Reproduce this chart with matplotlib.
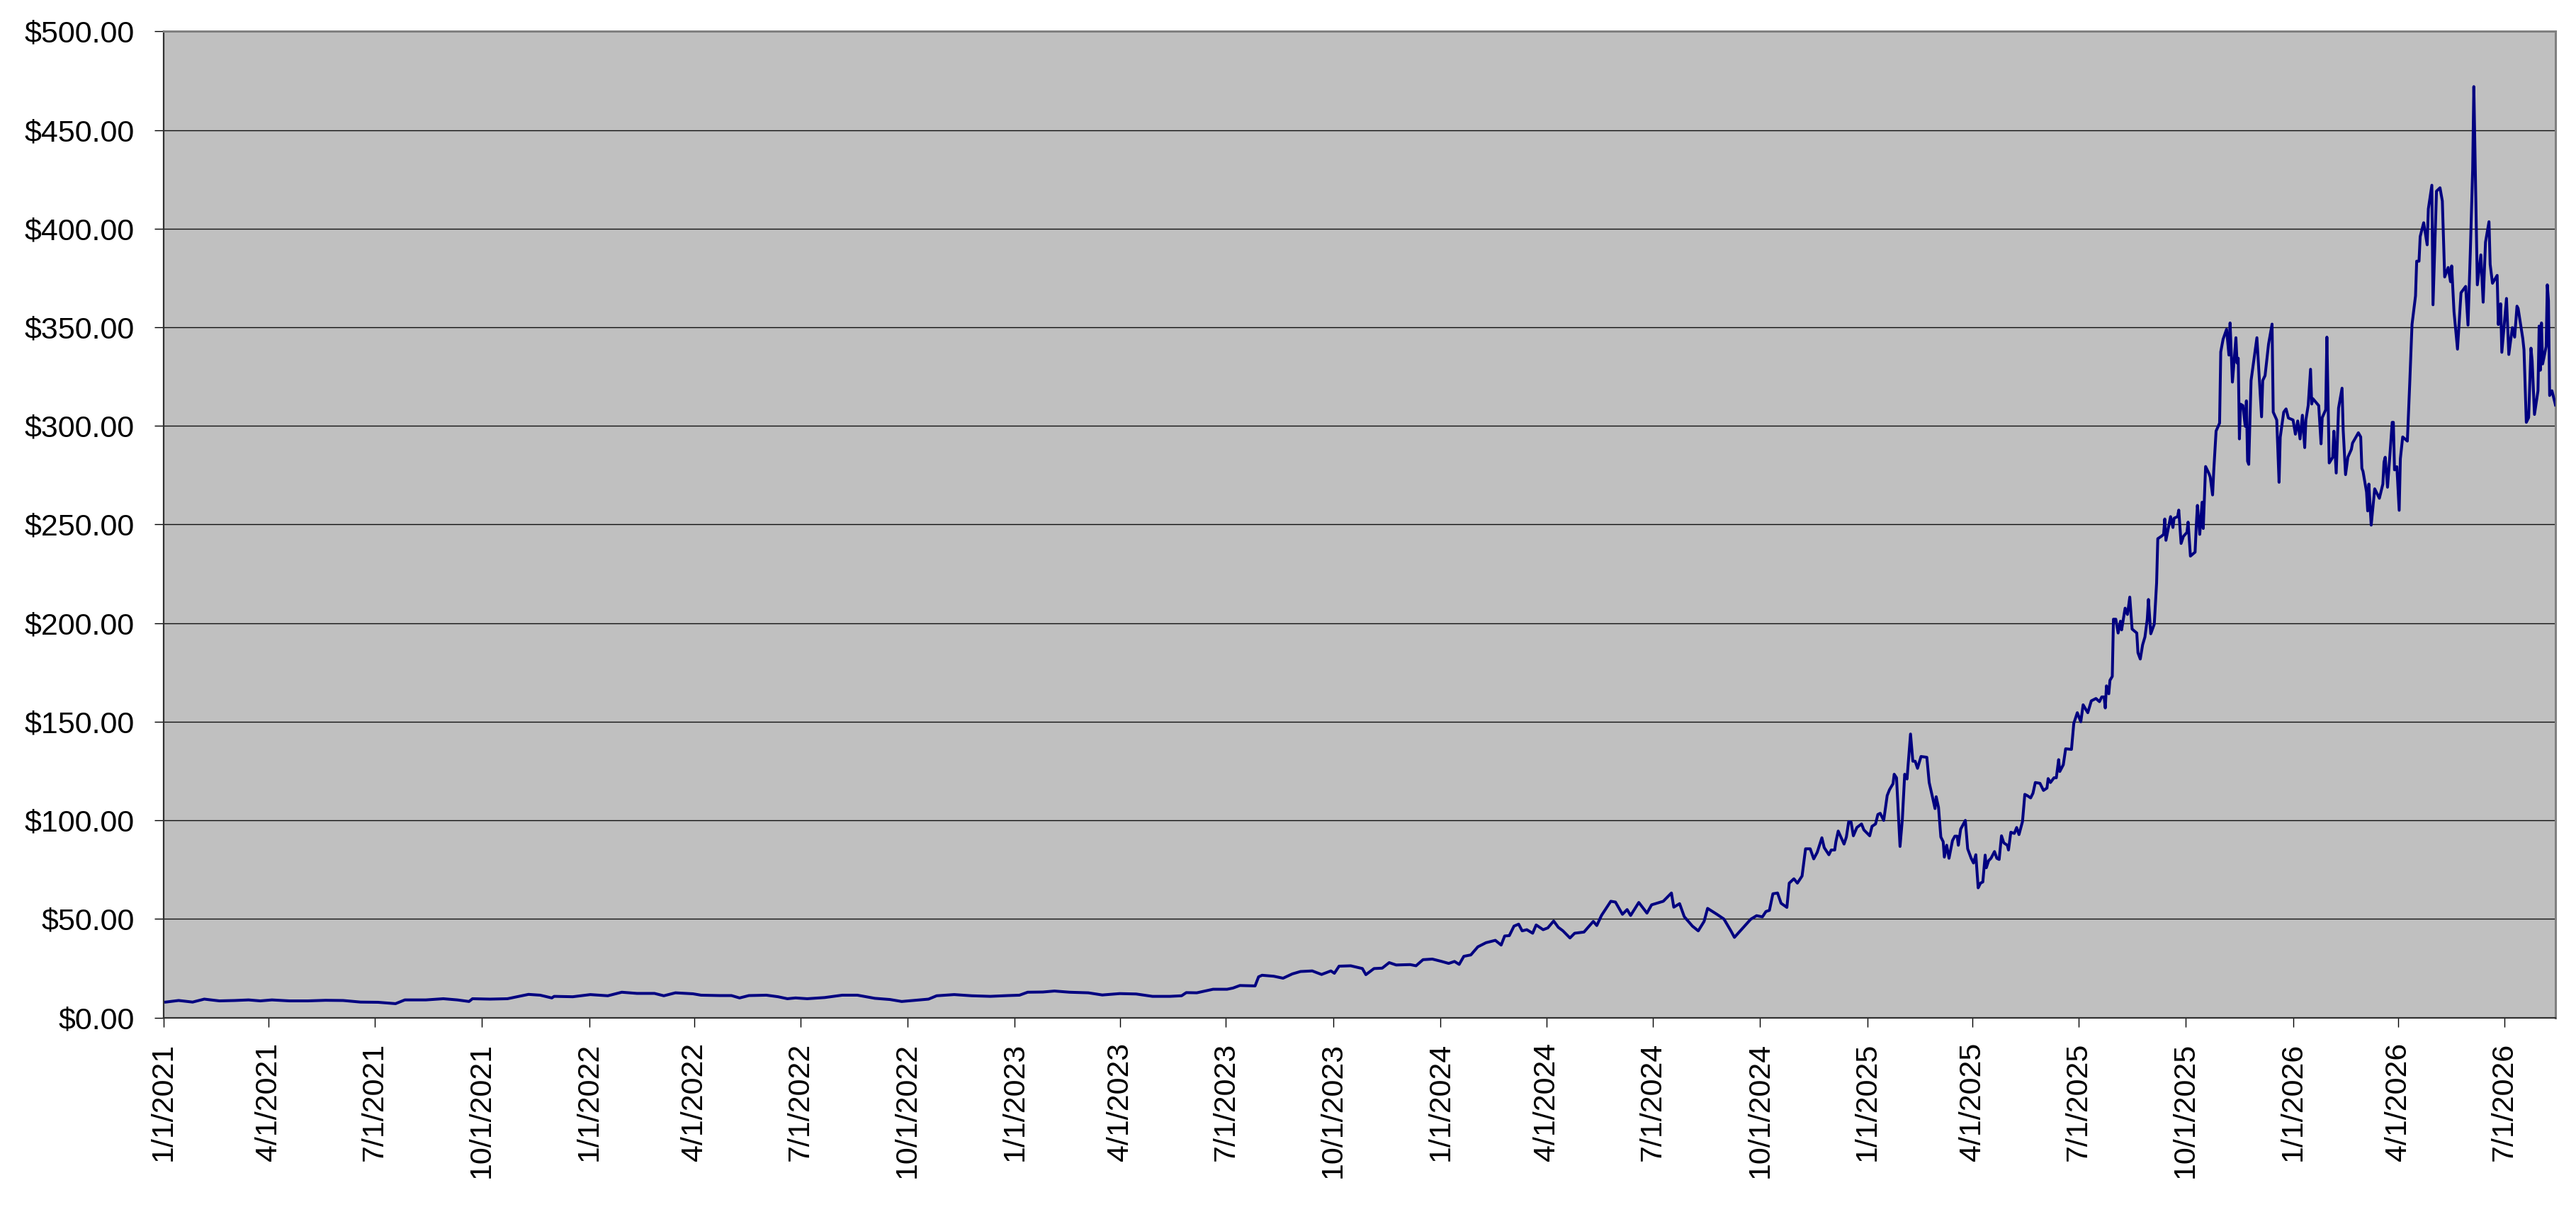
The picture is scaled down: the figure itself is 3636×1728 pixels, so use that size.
import matplotlib
matplotlib.use("Agg")
import matplotlib.pyplot as plt
import matplotlib.dates as mdates
from matplotlib.ticker import FuncFormatter
import pandas as pd

# ---------------- data ----------------
start_date = "2021-01-01"

day_offset = [
    2, 13, 25, 35, 48, 61, 73, 83, 93, 108, 124, 139, 154, 169, 184, 199, 207, 225, 240, 252,
    262, 265, 280, 295, 313, 323, 333, 335, 351, 366, 381, 393, 406, 421, 429, 439, 454, 461,
    477, 487, 494, 502, 517, 527, 535, 542, 552, 567, 582, 595, 610, 623, 633, 648, 656, 663,
    678, 693, 709, 724, 734, 741, 754, 764, 777,
    793, 805, 820, 834, 848, 863, 873, 877, 886, 900, 912, 917, 923, 936, 939, 942, 952, 960,
    968, 975, 985, 993, 1001, 1004, 1008, 1018, 1028, 1031, 1038, 1045, 1051, 1057, 1069, 1074,
    1080, 1088, 1096, 1102, 1107, 1111, 1115, 1121, 1127, 1134, 1142, 1147, 1150, 1154, 1158,
    1162, 1165, 1169, 1174, 1177, 1183, 1187, 1192, 1196, 1200, 1206, 1210, 1218, 1226, 1229,
    1233, 1241, 1245, 1251, 1255, 1258, 1265, 1272, 1276, 1286, 1290, 1293, 1295, 1300, 1304,
    1311, 1316, 1321, 1324, 1332, 1338, 1344, 1347,
    1361, 1366, 1371, 1374, 1377, 1380, 1384, 1387, 1392, 1394, 1398, 1401, 1405, 1408, 1412,
    1415, 1418, 1422, 1424, 1428, 1430, 1433, 1434, 1436, 1441, 1443, 1445, 1447, 1449, 1452,
    1456, 1458, 1463, 1465, 1468, 1470, 1472, 1475, 1478, 1480, 1483, 1484, 1486, 1489, 1491,
    1493, 1495, 1498, 1500, 1502, 1504, 1507, 1512, 1514, 1517, 1519, 1520, 1522, 1524, 1526,
    1527, 1529, 1531, 1534, 1536, 1538, 1539, 1541, 1545, 1547, 1550, 1552, 1554, 1556, 1558,
    1560, 1562, 1563, 1565, 1567, 1570, 1572, 1574, 1576, 1578, 1581, 1582, 1584, 1587, 1589,
    1591, 1594, 1596, 1598, 1601, 1603, 1605, 1609, 1612, 1615, 1616, 1618, 1621, 1623, 1625,
    1626, 1629, 1631, 1636, 1638,
    1641, 1644, 1646, 1650, 1653, 1657, 1660, 1662, 1664, 1665, 1666, 1668, 1669, 1671, 1672,
    1674, 1676, 1678, 1679, 1682, 1684, 1686, 1688, 1692, 1693, 1695, 1697, 1699, 1701, 1702,
    1704, 1707, 1709, 1710, 1713, 1715, 1716, 1717, 1721, 1723, 1724, 1727, 1728, 1730, 1732,
    1735, 1736, 1738, 1742, 1743, 1744, 1746, 1748, 1749, 1751, 1754, 1755, 1757, 1758, 1760,
    1763, 1764, 1766, 1769, 1771, 1772, 1774, 1775, 1777, 1778, 1779, 1780, 1781, 1783, 1785,
    1786, 1787, 1788, 1790, 1795, 1799, 1800, 1802, 1805, 1808, 1809, 1812, 1814, 1815, 1818,
    1820, 1822, 1826, 1828, 1830, 1832, 1834, 1836, 1837, 1839, 1841, 1842, 1843, 1848,
    1850, 1851, 1854, 1855, 1857, 1860, 1861, 1863, 1865, 1868, 1869, 1871, 1873, 1876, 1877,
    1882, 1884, 1885, 1886, 1889, 1890, 1891, 1893, 1896, 1900, 1903, 1904, 1905, 1907, 1909,
    1911, 1912, 1913, 1915, 1917, 1918, 1920, 1924, 1926, 1928, 1931, 1932, 1934, 1935, 1938,
    1941, 1942, 1945, 1946, 1949, 1952, 1954, 1956, 1959, 1961, 1962, 1964, 1967, 1970, 1974,
    1976, 1978, 1980, 1981, 1984, 1987, 1989, 1991, 1994, 1995, 1997, 2001, 2002, 2004, 2005,
    2009, 2011, 2014, 2016, 2018, 2019, 2023, 2024, 2026, 2028, 2030, 2031, 2033, 2036, 2037,
    2038, 2039, 2040, 2043, 2044, 2045, 2046, 2048, 2051,
]

price = [
    7.9, 8.7, 7.9, 9.4, 8.5, 8.7, 9.0, 8.5, 9.0, 8.5, 8.5, 8.8, 8.7, 7.9, 7.8, 7.1, 9.0, 9.0, 9.6, 9.0,
    8.2, 9.6, 9.4, 9.6, 11.8, 11.4, 10.0, 10.8, 10.6, 11.7, 11.1, 12.9, 12.3, 12.3, 11.1, 12.6, 12.1, 11.4,
    11.2, 11.2, 10.0, 11.2, 11.4, 10.6, 9.6, 10.0, 9.6, 10.2, 11.4, 11.4, 9.8, 9.2, 8.2, 9.0, 9.4, 11.1,
    11.7, 11.1, 10.8, 11.2, 11.4, 12.9, 13.0, 13.5, 12.9,
    12.6, 11.5, 12.2, 12.0, 10.8, 10.8, 11.1, 12.7, 12.6, 14.4, 14.4, 15.0, 16.3, 16.1, 20.7, 21.5, 21.0, 20.0,
    22.2, 23.4, 23.7, 21.9, 23.7, 22.5, 26.1, 26.3, 24.9, 21.8, 24.9, 25.1, 27.9, 26.7, 26.9, 26.3,
    29.4, 29.7, 28.5, 27.5, 28.5, 27.0, 31.1, 31.8, 35.9, 38.0, 39.2, 36.8, 41.4, 41.6, 46.4,
    47.4, 44.0, 44.6, 42.8, 47.0, 44.6, 45.5, 49.0, 45.8, 44.0, 40.4, 42.8, 43.4, 48.8, 46.7,
    51.8, 59.0, 58.6, 52.4, 54.8, 51.8, 58.4, 53.0, 57.2, 59.0, 61.4, 63.2, 56.0, 57.8, 51.2,
    46.4, 44.0, 48.8, 55.4, 52.4, 50.0, 44.0, 40.7,
    49.9, 51.7, 51.1, 53.8, 54.4, 62.8, 63.2, 58.0, 55.9, 68.2, 70.4, 68.2, 71.8, 85.6, 85.6,
    80.5, 83.8, 91.2, 86.2, 82.6, 85.0, 85.0, 89.2, 94.6, 88.0, 91.6, 99.4, 99.2, 92.2, 96.4,
    98.2, 95.2, 92.2, 97.0, 98.2, 103.0, 103.6, 100.0, 112.6, 115.6, 118.6, 123.4, 121.6, 86.8, 100.6,
    123.4, 121.0, 143.8, 130.0, 130.0, 126.4, 132.4, 132.0, 119.2, 111.4, 106.0, 112.0, 106.6, 91.6, 89.2,
    81.4, 87.4, 80.8, 89.8, 92.0, 92.0, 87.4, 95.6, 100.0, 85.6, 80.8, 78.4, 82.6, 65.8, 68.2,
    68.8, 82.4, 76.0, 79.6, 80.8, 84.2, 80.8, 80.2, 92.2, 88.6, 87.4, 85.0, 94.0, 93.4, 96.4,
    92.8, 99.4, 113.2, 112.6, 111.4, 113.8, 119.2, 118.8, 115.2, 116.4, 121.2, 119.2, 121.6, 121.6, 130.8,
    124.8, 128.2, 136.3, 136.0, 149.2,
    154.6, 150.0, 158.6, 154.6, 160.6, 161.8, 160.2, 162.6, 162.6, 157.0, 168.2, 164.2, 171.0, 173.0, 202.0,
    202.0, 195.0, 201.0, 196.6, 207.6, 204.4, 213.2, 197.0, 195.0, 185.0, 181.8, 189.0, 193.0, 202.0, 212.0,
    194.6, 199.5, 220.4, 242.8, 244.0, 245.0, 252.8, 242.0, 254.0, 248.5, 253.2, 254.0, 257.3, 240.4, 244.0,
    246.0, 251.2, 234.0, 236.0, 249.3, 259.7, 245.0, 261.3, 248.0, 279.4, 275.7, 274.0, 265.0, 277.3, 297.4,
    301.4, 337.5, 343.9, 349.0, 335.9, 352.2, 322.2, 329.5, 344.7, 331.9, 334.3, 293.4, 311.0, 310.3, 299.8,
    312.7, 282.1, 280.5, 323.0, 344.7, 304.6, 323.0, 325.5, 341.5, 351.6, 307.0, 303.0, 271.4, 294.2, 307.0,
    308.6, 304.0, 303.0, 295.8, 302.5, 293.4, 305.4, 289.0, 303.0, 310.5, 328.7, 311.1, 313.8, 310.3,
    290.9, 304.2, 308.2, 345.0, 281.2, 284.1, 297.3, 276.1, 309.0, 319.1, 297.8, 275.3, 284.1, 288.1, 291.3,
    296.5, 294.4, 278.5, 276.9, 266.5, 256.9, 270.5, 249.7, 268.1, 263.3, 270.5, 281.7, 284.1, 268.9, 284.9,
    301.8, 301.8, 277.7, 279.3, 257.2, 283.3, 294.4, 292.3, 321.0, 351.4, 365.9, 383.5, 383.5, 396.0, 403.0,
    391.8, 410.0, 422.0, 361.4, 419.0, 420.7, 414.0, 375.5, 380.3, 373.1, 381.1, 357.9, 338.9, 367.5, 370.7,
    351.1, 388.3, 430.0, 472.0, 371.5, 386.7, 362.7, 393.1, 403.5, 381.9, 372.3, 376.3, 351.4, 361.9, 337.3,
    364.6, 336.2, 349.8, 345.0, 360.7, 359.5, 344.2, 338.6, 301.8, 304.2, 339.4, 333.0, 305.8, 317.8, 350.6,
    328.2, 352.2, 331.4, 340.2, 371.5, 363.5, 315.4, 317.8, 310.6,
]

y_ticks = [0, 50, 100, 150, 200, 250, 300, 350, 400, 450, 500]
tick_months = [1, 4, 7, 10]

# ---------------- plot ----------------
dates = pd.Timestamp(start_date) + pd.to_timedelta(day_offset, unit="D")

plt.rcParams["font.family"] = ["Liberation Sans", "DejaVu Sans"]

fig = plt.figure(figsize=(36.36, 17.28), dpi=100)
fig.patch.set_facecolor("white")
ax = fig.add_axes([0.06345, 0.16858, 0.92858, 0.80579])
ax.set_facecolor("#C0C0C0")

ax.plot(dates, price, color="#000080", lw=2.9, zorder=3, solid_joinstyle="round")

ax.set_ylim(y_ticks[0], y_ticks[-1])
ax.set_yticks(y_ticks)
ax.yaxis.set_major_formatter(FuncFormatter(lambda v, p: f"${v:,.2f}"))

ax.set_xlim(pd.Timestamp(start_date), dates[-1])
ax.xaxis.set_major_locator(mdates.MonthLocator(bymonth=tick_months, bymonthday=1))


def fmt_date(v, p):
    d = mdates.num2date(v)
    return f"{d.month}/{d.day}/{d.year}"


ax.xaxis.set_major_formatter(FuncFormatter(fmt_date))

ax.grid(axis="y", color="#101010", lw=1.0, zorder=1)
ax.grid(axis="x", visible=False)
ax.set_axisbelow(True)

ax.tick_params(axis="both", direction="out", length=9.4, width=1.0,
               color="black", labelsize=31, labelcolor="black")
ax.tick_params(axis="y", pad=20)
ax.tick_params(axis="x", pad=16, labelrotation=90)

for side in ("top", "right"):
    ax.spines[side].set_color("#808080")
    ax.spines[side].set_linewidth(2.2)
for side in ("left", "bottom"):
    ax.spines[side].set_color("#303030")
    ax.spines[side].set_linewidth(1.6)

fig.savefig("out.png", dpi=100, facecolor="white")
